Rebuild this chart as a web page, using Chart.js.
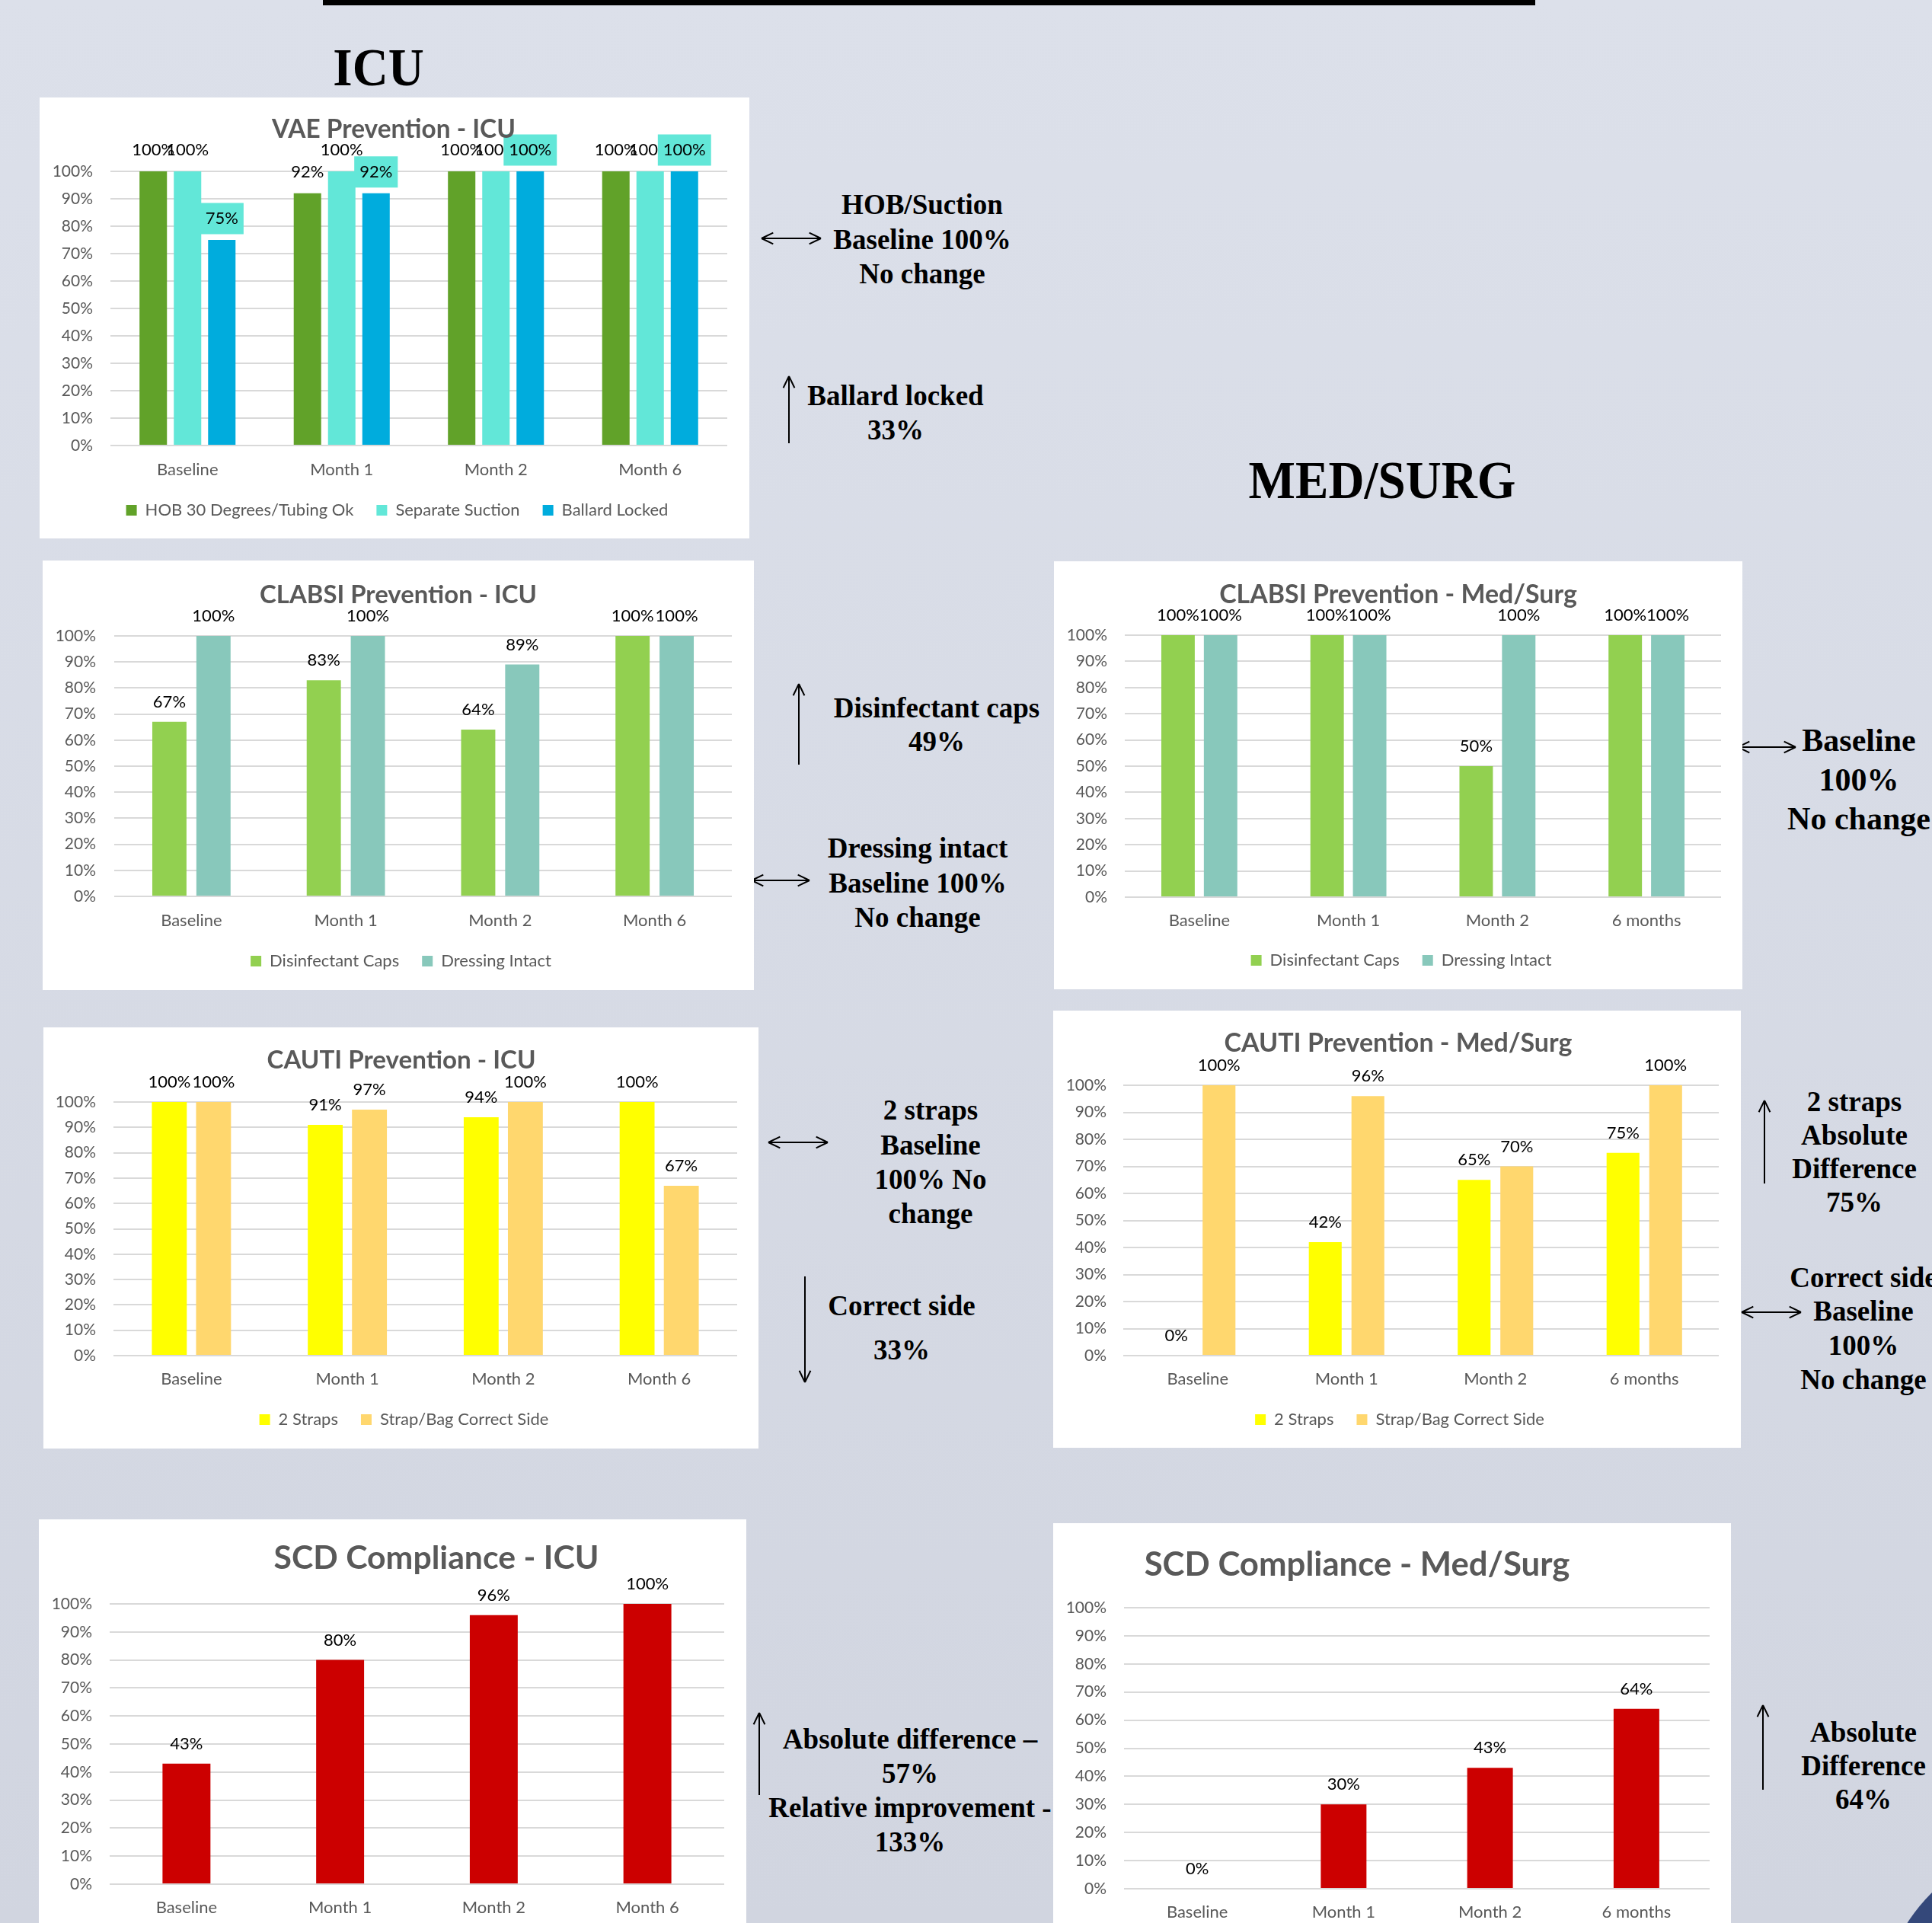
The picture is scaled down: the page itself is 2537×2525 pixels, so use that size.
<!DOCTYPE html>
<html>
<head>
<meta charset="utf-8">
<title>Prevention bundles - ICU and Med/Surg</title>
<script src="https://cdn.jsdelivr.net/npm/chart.js@4.4.1/dist/chart.umd.min.js"></script>
<style>
  html, body { margin: 0; padding: 0; }
  body {
    position: relative;
    width: 2537px;
    height: 2525px;
    overflow: hidden;
    background: linear-gradient(#dce0ea, #d1d5e0);
    font-family: "Liberation Serif", "Times New Roman", serif;
  }
  .topbar { position: absolute; left: 424px; top: 0; width: 1592px; height: 7px; background: #000; }
  .box { position: absolute; background: #fff; }
  .box canvas { display: block; }
  .note { position: absolute; white-space: nowrap; font-weight: bold; color: #000; text-align: center; }
  .corner { position: absolute; left: 2468px; top: 2418px; width: 464px; height: 464px; border-radius: 50%; background: #34487a; }
  svg.arrows { position: absolute; left: 0; top: 0; }
</style>
</head>
<body>
<div class="topbar"></div>
<div class="corner"></div>
<svg class="arrows" id="arrows" width="2537" height="2525"></svg>
<script>
// categories
const months = ["Baseline", "Month 1", "Month 2", "Month 6"];
const monthsMedSurg = ["Baseline", "Month 1", "Month 2", "6 months"];

// VAE prevention - ICU
const vaeHob = [100, 92, 100, 100];
const vaeSuction = [100, 100, 100, 100];
const vaeBallard = [75, 92, 100, 100];

// CLABSI prevention
const clabsiIcuCaps = [67, 83, 64, 100];
const clabsiIcuDressing = [100, 100, 89, 100];
const clabsiMsCaps = [100, 100, 50, 100];
const clabsiMsDressing = [100, 100, 100, 100];

// CAUTI prevention
const cautiIcuStraps = [100, 91, 94, 100];
const cautiIcuSide = [100, 97, 100, 67];
const cautiMsStraps = [0, 42, 65, 75];
const cautiMsSide = [100, 96, 70, 100];

// SCD compliance
const scdIcu = [43, 80, 96, 100];
const scdMs = [0, 30, 43, 64];

Chart.defaults.font.family = "Lato";
Chart.defaults.color = "#595959";

// layout of each chart panel on the poster (page pixels)
const G = {
  vae:       { box: [52, 128, 932, 579],    plot: [145, 225, 955, 585],     yLab: 122,  xLab: 617,  legend: 670,  title: [517, 170, 320] },
  clabsiIcu: { box: [56, 736, 934, 564],    plot: [150, 835, 961, 1177],    yLab: 126,  xLab: 1209, legend: 1262, title: [523, 781, 364] },
  clabsiMs:  { box: [1384, 737, 904, 562],  plot: [1477, 834, 2260, 1178],  yLab: 1454, xLab: 1209, legend: 1261, title: [1836, 781, 470] },
  cautiIcu:  { box: [57, 1349, 939, 553],   plot: [149, 1447, 968, 1780],   yLab: 126,  xLab: 1811, legend: 1864, title: [527, 1392, 353] },
  cautiMs:   { box: [1383, 1327, 903, 574], plot: [1475, 1425, 2257, 1780], yLab: 1453, xLab: 1811, legend: 1864, title: [1836, 1370, 457] },
  scdIcu:    { box: [51, 1995, 929, 530],   plot: [144, 2106, 951, 2474],   yLab: 121,  xLab: 2505, legend: 0,    title: [573, 2046, 427] },
  scdMs:     { box: [1383, 2000, 890, 525], plot: [1476, 2111, 2245, 2480], yLab: 1453, xLab: 2511, legend: 0,    title: [1782, 2055, 559] }
};

// title drawn at a fixed spot, sized to the width it has in the poster
const boxTitle = {
  id: "boxTitle",
  afterDraw(chart, args, o) {
    const ctx = chart.ctx;
    ctx.save();
    ctx.font = "bold 40px Lato";
    const size = 40 * o.width / ctx.measureText(o.text).width;
    ctx.font = `bold ${size}px Lato`;
    ctx.fillStyle = "#595959";
    ctx.textAlign = "center";
    ctx.textBaseline = "middle";
    ctx.fillText(o.text, o.x, o.y);
    ctx.restore();
  }
};

// Excel centres the legend a bit right of the plot; nudge it the same way
const legendShift = {
  id: "legendShift",
  afterLayout(chart, args, o) {
    if (chart.legend && o.dx) {
      chart.legend.left += o.dx;
      chart.legend.right += o.dx;
    }
  }
};

// value labels above the bars (some series get a filled box like in Excel)
const barLabels = {
  id: "barLabels",
  afterDatasetsDraw(chart, args, o) {
    const ctx = chart.ctx;
    ctx.save();
    ctx.font = `${o.size}px Lato`;
    ctx.textAlign = "center";
    ctx.textBaseline = "middle";
    chart.data.datasets.forEach((ds, i) => {
      chart.getDatasetMeta(i).data.forEach((bar, j) => {
        const txt = ds.data[j] + "%";
        const y = bar.y - o.offset;
        if (ds.labelBox) {
          const w = ctx.measureText(txt).width + 14;
          ctx.fillStyle = ds.labelBox;
          ctx.fillRect(bar.x - w / 2, y - 20.5, w, 41);
        }
        ctx.fillStyle = "#000";
        ctx.fillText(txt, bar.x, y);
      });
    });
    ctx.restore();
  }
};

function place(id, g) {
  const [x, y, w, h] = g.box;
  const div = document.createElement("div");
  div.className = "box";
  div.style.left = x + "px";
  div.style.top = y + "px";
  div.style.width = w + "px";
  div.style.height = h + "px";
  const cv = document.createElement("canvas");
  cv.id = id;
  cv.width = w;
  cv.height = h;
  div.appendChild(cv);
  document.body.appendChild(div);
  return cv;
}

function makeChart(id, g, title, labels, datasets, o) {
  const cv = place(id, g);
  const [bx, by, bw, bh] = g.box;
  const [pl, pt, pr, pb] = g.plot;
  const legPad = 30;
  const tickLH = 22 * 1.2;
  const legendTop = g.legend ? g.legend - legPad - 11 : 0;
  const xH = g.legend ? legendTop - pb : by + bh - pb;
  const padBottom = g.legend ? by + bh - (legendTop + 22 + legPad + 10) : 0;

  return new Chart(cv, {
    type: "bar",
    data: { labels: labels, datasets: datasets },
    options: {
      responsive: false,
      animation: false,
      layout: { padding: { left: 0, right: bx + bw - pr, top: pt - by, bottom: padBottom } },
      datasets: { bar: { categoryPercentage: o.cat, barPercentage: o.bar } },
      plugins: {
        legend: {
          display: !!g.legend,
          position: "bottom",
          labels: { boxWidth: 14, boxHeight: 14, padding: legPad, color: "#595959", font: { size: 22 } }
        },
        tooltip: { enabled: false },
        legendShift: { dx: 18 },
        boxTitle: { text: title, x: g.title[0] - bx, y: g.title[1] - by, width: g.title[2] },
        barLabels: { size: 22, offset: o.offset || 26 }
      },
      scales: {
        x: {
          grid: { display: false, drawTicks: false },
          border: { display: false },
          ticks: { color: "#595959", font: { size: 22 }, padding: g.xLab - pb - tickLH / 2 },
          afterFit: (s) => { s.height = xH; }
        },
        y: {
          min: 0,
          max: 100,
          ticks: { stepSize: 10, callback: (v) => v + "%", color: "#595959", font: { size: 21 }, padding: pl - g.yLab },
          grid: { color: "#d9d9d9", lineWidth: 2, drawTicks: false },
          border: { display: false },
          afterFit: (s) => { s.width = pl - bx; }
        }
      }
    },
    plugins: [legendShift, boxTitle, barLabels]
  });
}

makeChart("vae", G.vae, "VAE Prevention - ICU", months, [
  { label: "HOB 30 Degrees/Tubing Ok", data: vaeHob, backgroundColor: "#61a229" },
  { label: "Separate Suction", data: vaeSuction, backgroundColor: "#62e7d8" },
  { label: "Ballard Locked", data: vaeBallard, backgroundColor: "#00acdd", labelBox: "#62e7d8" }
], { cat: 0.667, bar: 0.8, offset: 28 });

makeChart("clabsiIcu", G.clabsiIcu, "CLABSI Prevention - ICU", months, [
  { label: "Disinfectant Caps", data: clabsiIcuCaps, backgroundColor: "#92d050" },
  { label: "Dressing Intact", data: clabsiIcuDressing, backgroundColor: "#88c8bb" }
], { cat: 0.571, bar: 0.776 });

makeChart("clabsiMs", G.clabsiMs, "CLABSI Prevention - Med/Surg", monthsMedSurg, [
  { label: "Disinfectant Caps", data: clabsiMsCaps, backgroundColor: "#92d050" },
  { label: "Dressing Intact", data: clabsiMsDressing, backgroundColor: "#88c8bb" }
], { cat: 0.571, bar: 0.786 });

makeChart("cautiIcu", G.cautiIcu, "CAUTI Prevention - ICU", months, [
  { label: "2 Straps", data: cautiIcuStraps, backgroundColor: "#ffff00" },
  { label: "Strap/Bag Correct Side", data: cautiIcuSide, backgroundColor: "#ffd76e" }
], { cat: 0.567, bar: 0.79 });

makeChart("cautiMs", G.cautiMs, "CAUTI Prevention - Med/Surg", monthsMedSurg, [
  { label: "2 Straps", data: cautiMsStraps, backgroundColor: "#ffff00" },
  { label: "Strap/Bag Correct Side", data: cautiMsSide, backgroundColor: "#ffd76e" }
], { cat: 0.573, bar: 0.77 });

makeChart("scdIcu", G.scdIcu, "SCD Compliance - ICU", months, [
  { label: "SCD Compliance", data: scdIcu, backgroundColor: "#cc0000" }
], { cat: 0.39, bar: 0.8 });

makeChart("scdMs", G.scdMs, "SCD Compliance - Med/Surg", monthsMedSurg, [
  { label: "SCD Compliance", data: scdMs, backgroundColor: "#cc0000" }
], { cat: 0.39, bar: 0.8 });

// headings and side notes
const notes = [
  { x: 497, y: 89, lh: 80, size: 70, sx: 0.93, lines: ["ICU"] },
  { x: 1815, y: 631, lh: 80, size: 70, sx: 0.93, lines: ["MED/SURG"] },
  { x: 1211, y: 269, lh: 45.5, size: 37, lines: ["HOB/Suction", "Baseline 100%", "No change"] },
  { x: 1176, y: 519, lh: 45, size: 37, lines: ["Ballard locked", "33%"] },
  { x: 1230, y: 930, lh: 44, size: 37, lines: ["Disinfectant caps", "49%"] },
  { x: 1205, y: 1114, lh: 45.5, size: 37, lines: ["Dressing intact", "Baseline 100%", "No change"] },
  { x: 2441, y: 973, lh: 51.5, size: 42, lines: ["Baseline", "100%", "No change"] },
  { x: 1222, y: 1458, lh: 45.3, size: 37, lines: ["2 straps", "Baseline", "100% No", "change"] },
  { x: 1184, y: 1715, lh: 58, size: 37, lines: ["Correct side", "33%"] },
  { x: 1195, y: 2283, lh: 45, size: 37, lines: ["Absolute difference \u2013", "57%", "Relative improvement -", "133%"] },
  { x: 2435, y: 1447, lh: 44, size: 37, lines: ["2 straps", "Absolute", "Difference", "75%"] },
  { x: 2447, y: 1678, lh: 44.7, size: 37, lines: ["Correct side", "Baseline", "100%", "No change"] },
  { x: 2447, y: 2275, lh: 44, size: 37, lines: ["Absolute", "Difference", "64%"] }
];

notes.forEach((n) => {
  n.lines.forEach((t, i) => {
    const d = document.createElement("div");
    d.className = "note";
    d.textContent = t;
    d.style.fontSize = n.size + "px";
    d.style.lineHeight = n.lh + "px";
    d.style.left = n.x + "px";
    d.style.top = (n.y - n.lh / 2 + i * n.lh) + "px";
    d.style.transform = "translateX(-50%)" + (n.sx ? ` scaleX(${n.sx})` : "");
    document.body.appendChild(d);
  });
});

// arrows: x1, y1, x2, y2, heads (1 = at end, 2 = both ends)
const arrows = [
  [1000, 313, 1078, 313, 2],
  [1036, 582, 1036, 494, 1],
  [1049, 1004, 1049, 898, 1],
  [987, 1156, 1063, 1156, 2],
  [2282, 981, 2358, 981, 2],
  [1009, 1500, 1087, 1500, 2],
  [1057, 1676, 1057, 1815, 1],
  [997, 2357, 997, 2249, 1],
  [2317, 1554, 2317, 1445, 1],
  [2287, 1723, 2365, 1723, 2],
  [2315, 2350, 2315, 2239, 1]
];

const svg = document.getElementById("arrows");
function head(x, y, ang) {
  const len = 17, spread = 0.45;
  let d = "";
  [-spread, spread].forEach((s) => {
    const a = ang + Math.PI + s;
    d += `M${x},${y} L${x + len * Math.cos(a)},${y + len * Math.sin(a)} `;
  });
  return d;
}
arrows.forEach(([x1, y1, x2, y2, n]) => {
  const ang = Math.atan2(y2 - y1, x2 - x1);
  let d = `M${x1},${y1} L${x2},${y2} ` + head(x2, y2, ang);
  if (n === 2) d += head(x1, y1, ang + Math.PI);
  const p = document.createElementNS("http://www.w3.org/2000/svg", "path");
  p.setAttribute("d", d);
  p.setAttribute("stroke", "#000");
  p.setAttribute("stroke-width", "2");
  p.setAttribute("fill", "none");
  svg.appendChild(p);
});
</script>
</body>
</html>
